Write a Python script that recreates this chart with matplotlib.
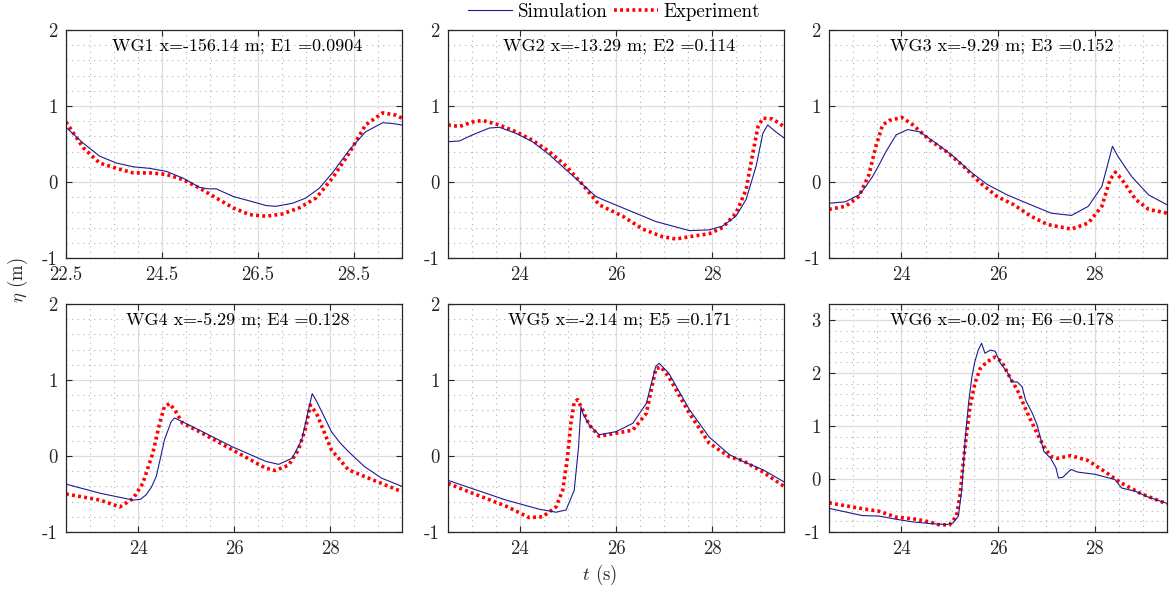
import numpy as np
import matplotlib
matplotlib.use('Agg')
import matplotlib.pyplot as plt
from matplotlib.ticker import MultipleLocator, FixedLocator
from matplotlib.lines import Line2D

plt.rcParams['font.family'] = ['cmr10', 'DejaVu Serif']
plt.rcParams['mathtext.fontset'] = 'cm'
plt.rcParams['axes.unicode_minus'] = False
plt.rcParams['axes.formatter.use_mathtext'] = True

# wave gauge records: time (s) and free surface elevation (m)
wg1_sim_t = [22.5, 22.86, 23.2, 23.55, 23.9, 24.24, 24.59, 24.94, 25.28, 25.46, 25.63, 25.98,
             26.33, 26.67, 26.87, 27.22, 27.5, 27.78, 28.05, 28.4, 28.74, 29.1, 29.3, 29.5]
wg1_sim = [0.72, 0.51, 0.34, 0.25, 0.2, 0.18, 0.14, 0.05, -0.07, -0.09, -0.09, -0.19,
           -0.25, -0.31, -0.32, -0.28, -0.21, -0.08, 0.12, 0.42, 0.66, 0.78, 0.77, 0.75]
wg1_exp_t = [22.5, 22.86, 23.2, 23.55, 23.9, 24.24, 24.59, 24.94, 25.28, 25.63, 25.98, 26.33,
             26.67, 27.01, 27.36, 27.71, 28.05, 28.4, 28.74, 29.1, 29.37, 29.5]
wg1_exp = [0.79, 0.45, 0.25, 0.18, 0.12, 0.12, 0.1, 0.03, -0.08, -0.21, -0.34, -0.43,
           -0.45, -0.42, -0.34, -0.21, 0.05, 0.38, 0.75, 0.91, 0.88, 0.84]

wg2_sim_t = [22.5, 22.74, 23.01, 23.36, 23.57, 23.92, 24.26, 24.61, 24.96, 25.3, 25.58, 25.72,
             26.14, 26.83, 27.53, 27.94, 28.22, 28.5, 28.71, 28.92, 29.06, 29.16, 29.33, 29.5]
wg2_sim = [0.53, 0.54, 0.62, 0.71, 0.72, 0.64, 0.53, 0.36, 0.16, -0.03, -0.19, -0.23,
           -0.34, -0.52, -0.64, -0.63, -0.58, -0.45, -0.23, 0.21, 0.64, 0.75, 0.66, 0.58]
wg2_exp_t = [22.5, 22.74, 23.01, 23.22, 23.57, 23.92, 24.26, 24.61, 24.96, 25.3, 25.65, 26.14,
             26.56, 26.97, 27.25, 27.53, 27.94, 28.22, 28.5, 28.71, 28.85, 28.96, 29.06, 29.26, 29.5]
wg2_exp = [0.75, 0.73, 0.79, 0.81, 0.75, 0.66, 0.55, 0.4, 0.21, -0.03, -0.3, -0.45,
           -0.62, -0.72, -0.75, -0.72, -0.68, -0.6, -0.41, -0.1, 0.38, 0.73, 0.84, 0.83, 0.73]

wg3_sim_t = [22.5, 22.84, 23.12, 23.26, 23.4, 23.54, 23.68, 23.89, 24.13, 24.38, 24.72, 25.07,
             25.42, 25.77, 26.19, 26.68, 27.1, 27.52, 27.87, 28.15, 28.28, 28.37, 28.48, 28.77,
             29.12, 29.5]
wg3_sim = [-0.28, -0.26, -0.17, -0.06, 0.07, 0.23, 0.4, 0.62, 0.69, 0.66, 0.51, 0.34,
           0.14, -0.03, -0.17, -0.3, -0.41, -0.44, -0.32, -0.06, 0.25, 0.47, 0.34, 0.07,
           -0.17, -0.3]
wg3_exp_t = [22.5, 22.84, 23.12, 23.33, 23.47, 23.61, 23.75, 24.01, 24.24, 24.59, 24.93, 25.28,
             25.63, 25.98, 26.33, 26.68, 27.03, 27.52, 27.87, 28.15, 28.32, 28.43, 28.57, 28.85,
             29.12, 29.5]
wg3_exp = [-0.36, -0.32, -0.19, 0.1, 0.47, 0.75, 0.81, 0.85, 0.75, 0.55, 0.4, 0.21,
           -0.01, -0.19, -0.3, -0.45, -0.56, -0.62, -0.54, -0.32, 0.03, 0.13, 0.03, -0.23,
           -0.36, -0.41]

wg4_sim_t = [22.5, 23.21, 23.9, 24.05, 24.17, 24.28, 24.38, 24.47, 24.55, 24.69, 24.76, 24.93,
             25.28, 25.97, 26.66, 26.93, 27.21, 27.41, 27.55, 27.63, 27.72, 27.83, 28.03, 28.2,
             28.38, 28.72, 29.07, 29.5]
wg4_sim = [-0.37, -0.49, -0.58, -0.57, -0.51, -0.41, -0.27, -0.02, 0.21, 0.45, 0.5, 0.45,
           0.34, 0.12, -0.07, -0.11, -0.03, 0.21, 0.6, 0.82, 0.72, 0.58, 0.32, 0.18,
           0.06, -0.14, -0.29, -0.4]
wg4_exp_t = [22.5, 23.21, 23.62, 23.9, 24.1, 24.31, 24.45, 24.55, 24.66, 24.79, 24.93, 25.28,
             25.97, 26.66, 26.86, 27.14, 27.34, 27.48, 27.59, 27.72, 28.03, 28.38, 28.72, 29.07, 29.5]
wg4_exp = [-0.5, -0.58, -0.67, -0.56, -0.36, 0.04, 0.43, 0.65, 0.69, 0.58, 0.43, 0.32,
           0.08, -0.16, -0.19, -0.12, 0.08, 0.34, 0.67, 0.56, 0.08, -0.18, -0.27, -0.36, -0.47]

wg5_sim_t = [22.5, 23.01, 23.71, 24.4, 24.75, 24.96, 25.13, 25.22, 25.27, 25.31, 25.44, 25.65,
             26.0, 26.35, 26.63, 26.83, 26.9, 27.1, 27.53, 27.94, 28.36, 28.64, 29.06, 29.5]
wg5_sim = [-0.32, -0.43, -0.58, -0.7, -0.74, -0.71, -0.45, 0.12, 0.65, 0.56, 0.41, 0.28,
           0.32, 0.43, 0.69, 1.18, 1.22, 1.09, 0.61, 0.25, 0.02, -0.07, -0.18, -0.34]
wg5_exp_t = [22.5, 23.01, 23.71, 24.19, 24.47, 24.75, 24.89, 24.99, 25.06, 25.13, 25.2, 25.31,
             25.44, 25.65, 26.0, 26.35, 26.63, 26.83, 26.94, 27.1, 27.53, 27.94, 28.36, 28.64,
             29.06, 29.5]
wg5_exp = [-0.36, -0.49, -0.66, -0.81, -0.8, -0.67, -0.45, -0.01, 0.43, 0.71, 0.74, 0.6,
           0.41, 0.26, 0.3, 0.34, 0.56, 1.15, 1.17, 1.04, 0.56, 0.17, -0.01, -0.06,
           -0.21, -0.4]

wg6_sim_t = [22.53, 23.19, 23.54, 23.89, 24.24, 24.59, 24.93, 25.07, 25.18, 25.25, 25.32, 25.39,
             25.46, 25.52, 25.59, 25.66, 25.73, 25.84, 25.94, 26.05, 26.19, 26.29, 26.4, 26.5,
             26.57, 26.71, 26.81, 26.95, 27.09, 27.2, 27.25, 27.34, 27.51, 27.65, 28.0, 28.42,
             28.56, 28.84, 29.11, 29.5]
wg6_sim = [-0.56, -0.69, -0.7, -0.76, -0.81, -0.84, -0.86, -0.83, -0.7, -0.2, 0.74, 1.43,
           1.93, 2.21, 2.43, 2.56, 2.37, 2.43, 2.41, 2.18, 2.02, 1.83, 1.83, 1.74,
           1.49, 1.24, 1.02, 0.52, 0.39, 0.21, 0.02, 0.03, 0.18, 0.13, 0.09, -0.01,
           -0.17, -0.23, -0.34, -0.46]
wg6_exp_t = [22.5, 23.19, 23.54, 23.89, 24.24, 24.59, 24.8, 25.0, 25.14, 25.21, 25.28, 25.35,
             25.42, 25.52, 25.63, 25.77, 25.94, 26.08, 26.26, 26.4, 26.61, 26.81, 26.95, 27.09,
             27.23, 27.51, 27.86, 28.21, 28.56, 28.97, 29.5]
wg6_exp = [-0.45, -0.56, -0.61, -0.72, -0.75, -0.81, -0.87, -0.86, -0.7, -0.33, 0.3, 0.86,
           1.36, 1.8, 2.08, 2.21, 2.3, 2.21, 1.89, 1.68, 1.24, 0.86, 0.61, 0.43,
           0.39, 0.44, 0.35, 0.14, -0.08, -0.28, -0.47]

titles = ['WG1 x=-156.14 m; E1 =0.0904', 'WG2 x=-13.29 m; E2 =0.114',
          'WG3 x=-9.29 m; E3 =0.152', 'WG4 x=-5.29 m; E4 =0.128',
          'WG5 x=-2.14 m; E5 =0.171', 'WG6 x=-0.02 m; E6 =0.178']

sims = [(wg1_sim_t, wg1_sim), (wg2_sim_t, wg2_sim), (wg3_sim_t, wg3_sim),
        (wg4_sim_t, wg4_sim), (wg5_sim_t, wg5_sim), (wg6_sim_t, wg6_sim)]
exps = [(wg1_exp_t, wg1_exp), (wg2_exp_t, wg2_exp), (wg3_exp_t, wg3_exp),
        (wg4_exp_t, wg4_exp), (wg5_exp_t, wg5_exp), (wg6_exp_t, wg6_exp)]

sim_color = '#1c1c94'
exp_color = '#ff0000'
exp_ls = (0, (0.8, 0.9))

fig = plt.figure(figsize=(11.71, 5.90), dpi=100)

lefts = [66, 448, 829]
widths = [336, 336, 338]
tops = [30, 304]
H = 228

for i in range(6):
    r, c = divmod(i, 3)
    ax = fig.add_axes([lefts[c] / 1171, 1 - (tops[r] + H) / 590, widths[c] / 1171, H / 590])
    t, y = sims[i]
    ax.plot(t, y, color=sim_color, lw=0.8, zorder=3)
    t, y = exps[i]
    ax.plot(t, y, color=exp_color, lw=2.6, ls=exp_ls, zorder=2)

    ax.set_xlim(22.5, 29.5)
    if i == 0:
        ax.xaxis.set_major_locator(FixedLocator([22.5, 24.5, 26.5, 28.5]))
        ax.set_xticklabels(['22.5', '24.5', '26.5', '28.5'])
    else:
        ax.xaxis.set_major_locator(FixedLocator([24, 26, 28]))
        ax.set_xticklabels(['24', '26', '28'])
    ax.xaxis.set_minor_locator(MultipleLocator(0.5))

    if i == 5:
        ax.set_ylim(-1, 3.3)
        ax.set_yticks([-1, 0, 1, 2, 3])
        ax.set_yticklabels(['-1', '0', '1', '2', '3'])
    else:
        ax.set_ylim(-1, 2)
        ax.set_yticks([-1, 0, 1, 2])
        ax.set_yticklabels(['-1', '0', '1', '2'])
    ax.yaxis.set_minor_locator(MultipleLocator(0.2))

    ax.grid(which='major', color='#dcdcdc', lw=0.9)
    ax.grid(which='minor', color='#b0b0b0', lw=0.8, ls=(0, (1, 4)))
    ax.set_axisbelow(True)
    for s in ax.spines.values():
        s.set_color('#262626')
        s.set_linewidth(0.9)
    ax.tick_params(which='major', direction='in', length=4, width=0.8, colors='#262626',
                   labelsize=13.5, labelcolor='#262626', top=True, right=True, pad=6)
    ax.tick_params(which='minor', length=0)

    ax.text(0.51, 0.93, titles[i], transform=ax.transAxes, ha='center', va='center',
            fontsize=13, color='black')

fig.text(18 / 1171, 1 - 280 / 590, r'$\eta$ (m)', rotation=90, ha='center', va='center',
         fontsize=13.5, color='#262626')
fig.text(600 / 1171, 1 - 575 / 590, r'$t$ (s)', ha='center', va='center',
         fontsize=13.5, color='#262626')

handles = [Line2D([], [], color=sim_color, lw=0.8),
           Line2D([], [], color=exp_color, lw=2.6, ls=exp_ls)]
fig.legend(handles, ['Simulation', 'Experiment'], loc='center', ncol=2,
           bbox_to_anchor=(614 / 1171, 1 - 12 / 590), frameon=False, fontsize=13.7,
           handlelength=2.3, handletextpad=0.3, columnspacing=0.35, borderpad=0)

fig.savefig('out.png', dpi=100)
